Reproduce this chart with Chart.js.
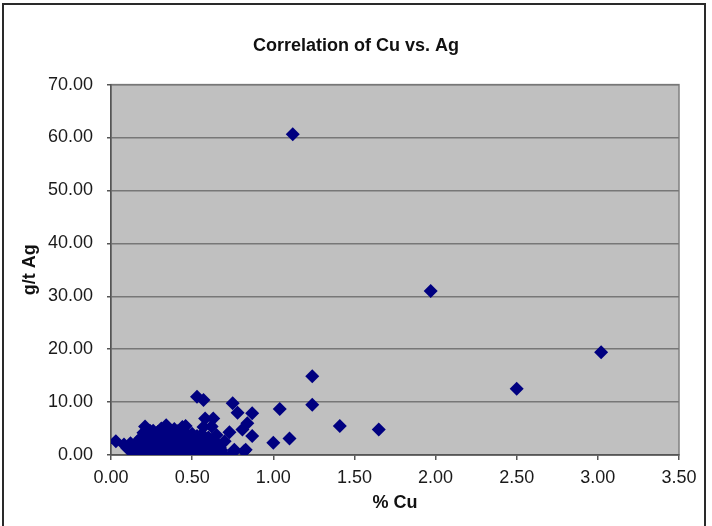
<!DOCTYPE html>
<html>
<head>
<meta charset="utf-8">
<script src="https://cdn.jsdelivr.net/npm/chart.js@4/dist/chart.umd.min.js"></script>
<style>
    html, body { margin: 0; padding: 0; background: #fff; }
    #wrap { position: relative; width: 712px; height: 526px; overflow: hidden; }
    #frame { position: absolute; left: 2px; top: 3px; width: 700px; height: 560px;
             border: 2px solid #2a2a2a; pointer-events: none; }
    canvas { position: absolute; left: 0; top: 0; }
</style>
</head>
<body>
<div id="wrap">
    <canvas id="cu-ag-chart" width="712" height="526"></canvas>
    <div id="frame"></div>
</div>
<script>
(function () {
    'use strict';

    /* ── Data ── */
    var titleText = 'Correlation of Cu vs. Ag';
    var xTitle = '% Cu';
    var yTitle = 'g/t Ag';
    var xTicks = [0, 0.5, 1, 1.5, 2, 2.5, 3, 3.5];
    var yTicks = [0, 10, 20, 30, 40, 50, 60, 70];

    // % Cu of each sample
    var cuValues = [
        1.12, 1.97, 3.02, 2.50, 1.24, 1.24, 1.04, 1.65, 1.41, 1.10, 1.00,
        0.53, 0.57, 0.75, 0.78, 0.87, 0.58, 0.63, 0.62, 0.57, 0.84, 0.81,
        0.73, 0.87, 0.70, 0.76, 0.83, 0.67, 0.64, 0.59, 0.57, 0.69, 0.75,
        0.82, 0.03, 0.08, 0.10, 0.21, 0.34, 0.46, 0.44,
        0.13, 0.15, 0.16, 0.17, 0.18, 0.19, 0.20, 0.20, 0.21, 0.22, 0.22,
        0.23, 0.23, 0.24, 0.24, 0.25, 0.25, 0.26, 0.26, 0.27, 0.27, 0.28,
        0.28, 0.29, 0.29, 0.30, 0.30, 0.31, 0.31, 0.32, 0.32, 0.33, 0.33,
        0.34, 0.34, 0.35, 0.35, 0.36, 0.36, 0.37, 0.37, 0.38, 0.38, 0.39,
        0.39, 0.40, 0.40, 0.41, 0.41, 0.42, 0.42, 0.43, 0.43, 0.44, 0.44,
        0.45, 0.45, 0.46, 0.46, 0.47, 0.48, 0.48, 0.49, 0.49, 0.50, 0.50,
        0.51, 0.51, 0.52, 0.53, 0.53, 0.54, 0.55, 0.55, 0.56, 0.57, 0.58,
        0.60, 0.61, 0.62, 0.63, 0.65, 0.66, 0.68, 0.18, 0.21, 0.26, 0.31,
        0.39, 0.24, 0.43, 0.14, 0.12
    ];

    // g/t Ag of each sample (same order)
    var agValues = [
        60.6, 31.0, 19.4, 12.5, 14.9, 9.5, 8.7, 4.8, 5.5, 3.1, 2.3,
        11.0, 10.4, 9.8, 8.0, 7.9, 6.9, 6.9, 5.4, 5.3, 6.0, 4.8,
        4.3, 3.6, 2.6, 1.0, 1.0, 1.4, 1.5, 2.0, 0.1, 0.2, 0.4,
        0.7, 2.6, 2.0, 1.3, 5.4, 5.6, 5.5, 5.3,
        0.8, 1.6, 2.4, 0.3, 3.1, 1.2, 4.2, 2.0, 0.6, 3.5, 1.5,
        2.8, 0.2, 4.6, 1.0, 3.8, 2.2, 0.5, 1.7, 4.0, 3.0, 2.4,
        0.9, 1.4, 4.4, 0.1, 3.3, 2.0, 1.1, 4.1, 2.7, 0.4, 3.6,
        1.8, 4.8, 2.3, 0.8, 3.0, 1.4, 4.3, 0.2, 2.6, 3.8, 1.0,
        2.0, 3.3, 0.6, 4.5, 1.6, 2.8, 0.3, 3.9, 1.2, 2.2, 0.5,
        3.1, 1.8, 4.2, 0.9, 2.5, 1.4, 3.5, 0.4, 2.0, 4.0, 1.1,
        3.0, 0.2, 2.4, 1.6, 3.6, 0.7, 2.8, 1.3, 3.9, 0.9, 2.2,
        3.3, 1.2, 0.3, 2.8, 3.8, 2.0, 0.9, 0.2, 2.6, 4.6, 5.0,
        4.9, 0.1, 0.1, 0.1, 2.2
    ];

    /* ── Plot background and frame ── */
    var plotBackground = {
        id: 'plotBackground',
        beforeDraw: function (chart) {
            var a = chart.chartArea;
            var ctx = chart.ctx;
            ctx.save();
            ctx.fillStyle = '#c0c0c0';
            ctx.fillRect(a.left, a.top, a.right - a.left, a.bottom - a.top);
            ctx.strokeStyle = '#808080';
            ctx.lineWidth = 1.5;
            ctx.strokeRect(a.left, a.top, a.right - a.left, a.bottom - a.top);
            ctx.restore();
        }
    };

    var points = cuValues.map(function (cu, i) { return { x: cu, y: agValues[i] }; });

    new Chart(document.getElementById('cu-ag-chart'), {
        type: 'scatter',
        data: {
            datasets: [{
                label: 'Ag',
                data: points,
                pointStyle: 'rectRot',
                pointRadius: 7,
                borderWidth: 0,
                backgroundColor: '#000080',
                borderColor: '#000080'
            }]
        },
        options: {
            responsive: false,
            animation: false,
            layout: { padding: { left: 0, right: 0, top: 0, bottom: 0 } },
            plugins: {
                legend: { display: false },
                tooltip: { enabled: false },
                title: {
                    display: true,
                    text: titleText,
                    color: '#111',
                    font: { family: 'Liberation Sans, Arial, sans-serif', size: 18, weight: 'bold' },
                    padding: { top: 35, bottom: 28 }
                }
            },
            scales: {
                x: {
                    type: 'linear',
                    min: 0,
                    max: 3.5,
                    afterBuildTicks: function (s) { s.ticks = xTicks.map(function (v) { return { value: v }; }); },
                    afterFit: function (s) { s.height = 71; },
                    grid: { drawOnChartArea: false, drawTicks: true, tickLength: 5, color: '#555', lineWidth: 1.5 },
                    border: { color: '#555', width: 1.5 },
                    ticks: {
                        color: '#1a1a1a',
                        padding: 7,
                        maxRotation: 0,
                        font: { family: 'Liberation Sans, Arial, sans-serif', size: 18 },
                        callback: function (v) { return Number(v).toFixed(2); }
                    },
                    title: {
                        display: true,
                        text: xTitle,
                        color: '#111',
                        font: { family: 'Liberation Sans, Arial, sans-serif', size: 18, weight: 'bold' },
                        padding: { top: 0, bottom: 12 }
                    }
                },
                y: {
                    type: 'linear',
                    min: 0,
                    max: 70,
                    afterBuildTicks: function (s) { s.ticks = yTicks.map(function (v) { return { value: v }; }); },
                    afterFit: function (s) { s.width = 111; },
                    grid: { color: '#777', lineWidth: 1.5, tickLength: 4, tickColor: '#555' },
                    border: { color: '#555', width: 1.5 },
                    ticks: {
                        color: '#1a1a1a',
                        padding: 14,
                        font: { family: 'Liberation Sans, Arial, sans-serif', size: 18 },
                        callback: function (v) { return Number(v).toFixed(2); }
                    },
                    title: {
                        display: true,
                        text: yTitle,
                        color: '#111',
                        font: { family: 'Liberation Sans, Arial, sans-serif', size: 18, weight: 'bold' },
                        padding: { top: 19, bottom: 0 }
                    }
                },
                yRight: {
                    type: 'linear',
                    position: 'right',
                    min: 0,
                    max: 1,
                    afterFit: function (s) { s.width = 33; },
                    grid: { display: false },
                    border: { display: false },
                    ticks: { display: false }
                }
            }
        },
        plugins: [plotBackground]
    });
})();
</script>
</body>
</html>
